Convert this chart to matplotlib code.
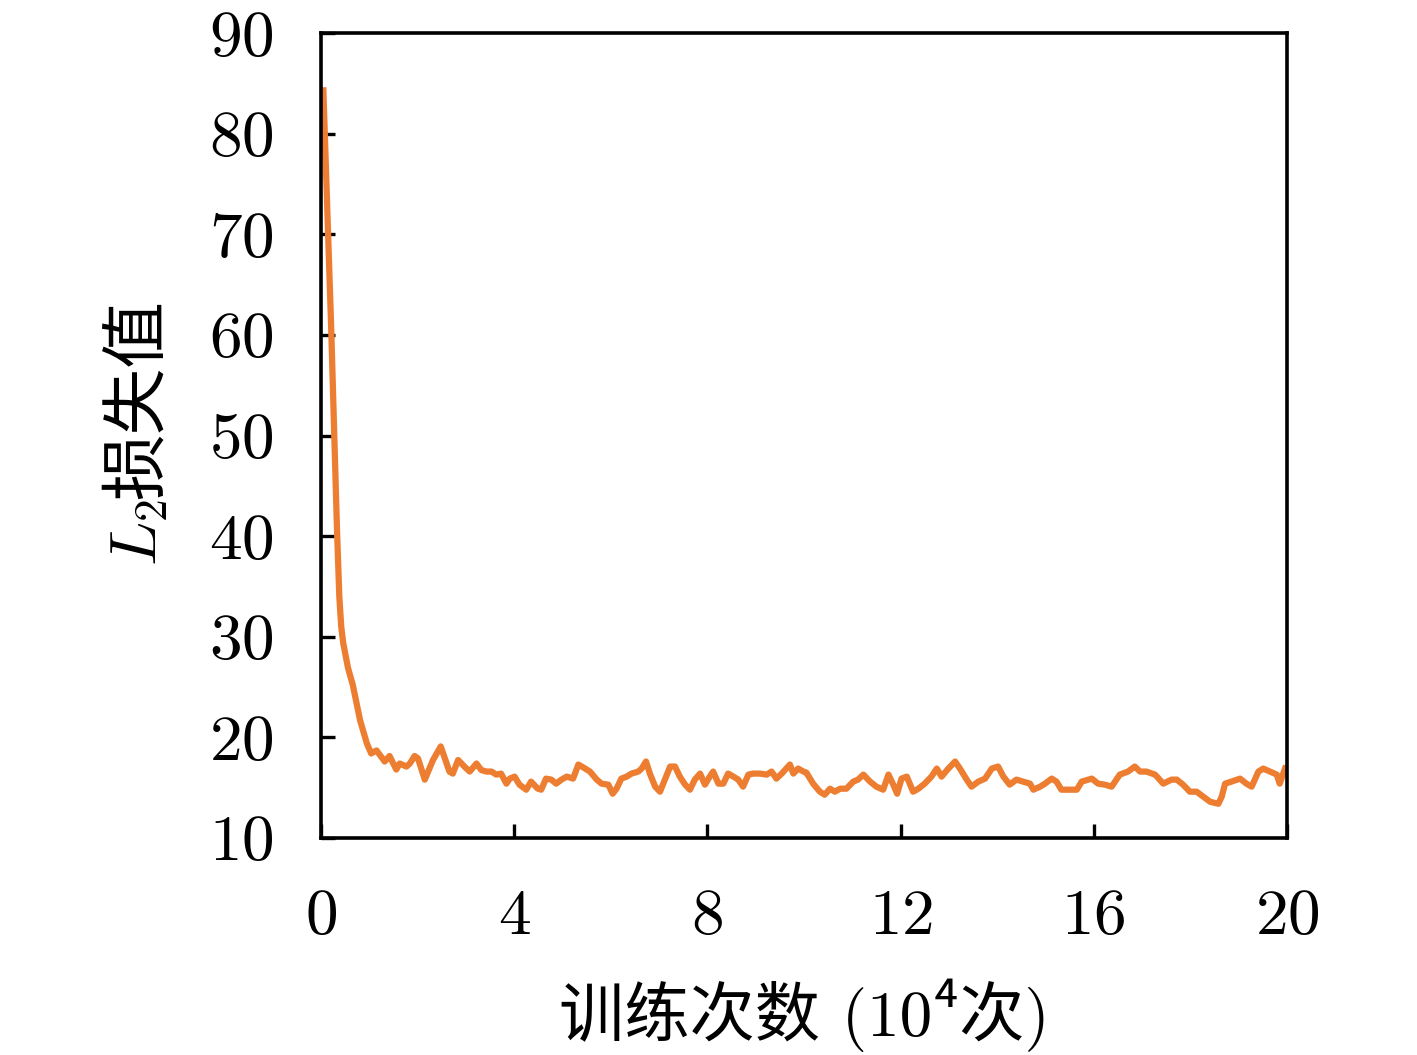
import numpy as np
import matplotlib
matplotlib.use("Agg")
import matplotlib.pyplot as plt

plt.rcParams['font.family'] = ['cmr10', 'Noto Sans CJK SC', 'DejaVu Sans']
plt.rcParams['mathtext.fontset'] = 'cm'
plt.rcParams['axes.unicode_minus'] = False
plt.rcParams['axes.formatter.use_mathtext'] = True

# training steps (x 10^4) and L2 loss
steps = [0.05, 0.10, 0.15, 0.21, 0.27, 0.33, 0.38, 0.42, 0.46, 0.56, 0.66, 0.81, 0.95,
         1.04, 1.15, 1.32, 1.42, 1.56, 1.63, 1.77, 1.84, 1.94, 2.01, 2.15, 2.32, 2.48,
         2.66, 2.73, 2.84, 2.97, 3.08, 3.22, 3.32, 3.43, 3.53, 3.63, 3.73, 3.84, 3.91,
         4.01, 4.11, 4.25, 4.35, 4.49, 4.56, 4.66, 4.77, 4.87, 4.98, 5.09, 5.22, 5.33,
         5.47, 5.57, 5.71, 5.81, 5.95, 6.04, 6.12, 6.22, 6.33, 6.43, 6.57, 6.64, 6.73,
         6.81, 6.92, 7.02, 7.12, 7.23, 7.33, 7.43, 7.54, 7.64, 7.74, 7.85, 7.95, 8.05,
         8.12, 8.23, 8.33, 8.43, 8.54, 8.64, 8.74, 8.85, 8.95, 9.09, 9.23, 9.33, 9.43,
         9.54, 9.71, 9.78, 9.88, 9.99, 10.05, 10.19, 10.33, 10.43, 10.54, 10.64, 10.75,
         10.88, 11.02, 11.12, 11.23, 11.37, 11.50, 11.64, 11.75, 11.85, 11.93, 12.02,
         12.13, 12.26, 12.37, 12.50, 12.64, 12.75, 12.85, 12.99, 13.13, 13.23, 13.37,
         13.47, 13.61, 13.75, 13.89, 14.02, 14.13, 14.26, 14.40, 14.54, 14.68, 14.75,
         14.89, 14.99, 15.13, 15.23, 15.33, 15.47, 15.65, 15.75, 15.96, 16.09, 16.23,
         16.37, 16.54, 16.71, 16.85, 16.96, 17.09, 17.27, 17.44, 17.61, 17.72, 17.85,
         17.99, 18.13, 18.27, 18.41, 18.58, 18.65, 18.72, 18.85, 19.03, 19.16, 19.27,
         19.41, 19.51, 19.65, 19.79, 19.85, 19.96]
loss = [84.3, 77.0, 70.0, 61.0, 51.0, 41.0, 34.0, 31.0, 29.4, 26.9, 25.2, 21.7, 19.4,
        18.4, 18.7, 17.6, 18.15, 16.8, 17.4, 17.1, 17.4, 18.15, 17.9, 15.8, 17.75, 19.1,
        16.6, 16.4, 17.75, 17.1, 16.6, 17.4, 16.75, 16.6, 16.6, 16.3, 16.4, 15.4, 15.9,
        16.1, 15.3, 14.8, 15.6, 14.9, 14.8, 15.9, 15.8, 15.4, 15.8, 16.1, 15.9, 17.3,
        16.9, 16.6, 15.8, 15.4, 15.3, 14.4, 14.9, 15.9, 16.1, 16.4, 16.6, 16.9, 17.6,
        16.4, 15.1, 14.6, 15.8, 17.1, 17.1, 16.1, 15.3, 14.8, 15.8, 16.4, 15.3, 16.1,
        16.6, 15.4, 15.4, 16.4, 16.1, 15.8, 15.1, 16.3, 16.4, 16.4, 16.3, 16.6, 15.9,
        16.4, 17.3, 16.4, 16.9, 16.6, 16.5, 15.4, 14.6, 14.3, 14.9, 14.6, 14.9,
        14.9, 15.6, 15.8, 16.3, 15.6, 15.1, 14.8, 16.3, 15.3, 14.4, 15.9,
        16.1, 14.6, 14.9, 15.4, 16.1, 16.9, 16.1, 16.9, 17.6, 16.9, 15.8,
        15.1, 15.6, 15.9, 16.9, 17.1, 16.1, 15.3, 15.8, 15.6, 15.4, 14.8,
        15.1, 15.4, 15.9, 15.6, 14.8, 14.8, 14.8, 15.6, 15.9, 15.4, 15.3,
        15.1, 16.3, 16.6, 17.1, 16.6, 16.6, 16.3, 15.4, 15.8, 15.8, 15.3,
        14.6, 14.6, 14.1, 13.6, 13.4, 14.1, 15.4, 15.6, 15.9, 15.4, 15.1,
        16.6, 16.9, 16.6, 16.3, 15.4, 16.9]

x_ticks = [0, 4, 8, 12, 16, 20]
y_ticks = [10, 20, 30, 40, 50, 60, 70, 80, 90]

fig = plt.figure(figsize=(14.17, 10.55), dpi=100)
ax = fig.add_axes([0.2265, 0.2057, 0.6817, 0.763])

ax.plot(steps, loss, color='#ED7D31', linewidth=4.5, solid_joinstyle='round')

ax.set_xlim(0, 20)
ax.set_ylim(10, 90)
ax.set_xticks(x_ticks)
ax.set_yticks(y_ticks)
ax.tick_params(direction='in', length=10, width=2.4, labelsize=47)
ax.tick_params(axis='y', pad=34)
ax.tick_params(axis='x', pad=37)
for sp in ax.spines.values():
    sp.set_linewidth(2.6)

# x label: CJK + cmr10 digits, superscript 4 as unicode
ax.set_xlabel('训练次数 (10\u2074次)', fontsize=47)
ax.xaxis.set_label_coords(0.5, -0.175)

# y label: math L_2 followed by the CJK part
t1 = ax.text(-0.170, 0.338, '$L_2$', fontsize=47, rotation=90,
             ha='left', va='baseline', rotation_mode='anchor',
             transform=ax.transAxes)
ax.annotate('损失值', xy=(-0.170, 1.0), xycoords=(ax.transAxes, t1),
            fontsize=48, rotation=90, ha='left', va='baseline',
            rotation_mode='anchor', annotation_clip=False)

fig.savefig('out.png', dpi=100)
